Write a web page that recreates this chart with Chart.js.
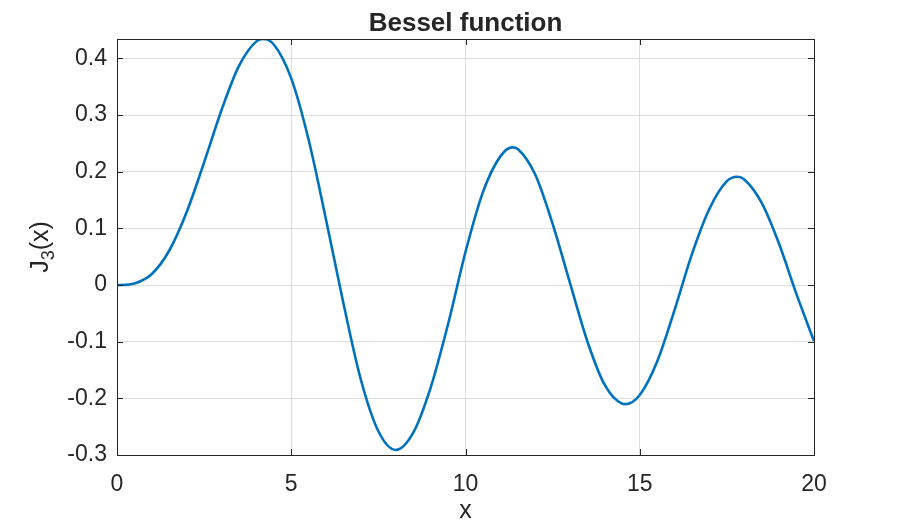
<!DOCTYPE html>
<html>
<head>
<meta charset="utf-8">
<script src="https://cdn.jsdelivr.net/npm/chart.js@4/dist/chart.umd.min.js"></script>
<style>
  html, body { margin: 0; padding: 0; background: #ffffff; }
  canvas { display: block; }
</style>
</head>
<body>
<canvas id="c" width="900" height="525"></canvas>
<script>
// Values (J3(x) curve)
const xValues = [0, 0.25, 0.5, 1, 1.5, 2, 2.5, 3, 3.5, 4, 4.2, 4.5, 5, 5.5, 6, 6.5, 7, 7.5, 8, 8.5, 9, 9.5, 10, 10.5, 11, 11.35, 11.5, 12, 12.5, 13, 13.5, 14, 14.5, 14.6, 15, 15.5, 16, 16.5, 17, 17.5, 17.8, 18, 18.5, 19, 19.5, 20];
const yValues = [0, 0.0003, 0.0026, 0.0196, 0.0610, 0.1289, 0.2166, 0.3091, 0.3868, 0.4302, 0.4344, 0.4247, 0.3648, 0.2561, 0.1148, -0.0330, -0.1676, -0.2581, -0.2911, -0.2606, -0.1809, -0.0690, 0.0584, 0.1640, 0.2272, 0.2430, 0.2403, 0.1951, 0.1080, 0.0033, -0.1000, -0.1768, -0.2094, -0.2101, -0.1940, -0.1350, -0.0438, 0.0550, 0.1347, 0.1835, 0.1912, 0.1863, 0.1450, 0.0724, -0.0165, -0.0989];
const xTicks = [0, 5, 10, 15, 20];
const yTicks = [-0.3, -0.2, -0.1, 0, 0.1, 0.2, 0.3, 0.4];
const xTickLabels = ['0', '5', '10', '15', '20'];
const yTickLabels = ['-0.3', '-0.2', '-0.1', '0', '0.1', '0.2', '0.3', '0.4'];
const titleText = 'Bessel function';
const xLabel = 'x';

const TXT = '#262626';
const FONT = '"Liberation Sans", Arial, Helvetica, sans-serif';

const points = xValues.map((x, i) => ({ x: x, y: yValues[i] }));

const decorPlugin = {
  id: 'decor',
  afterDraw(chart) {
    const ctx = chart.ctx;
    const a = chart.chartArea;
    const xs = chart.scales.x, ys = chart.scales.y;
    ctx.save();
    ctx.strokeStyle = TXT;
    ctx.lineWidth = 1;
    // box
    ctx.strokeRect(Math.round(a.left) + 0.5, Math.round(a.top) + 0.5,
                   Math.round(a.right - a.left), Math.round(a.bottom - a.top));
    // inward ticks
    const tl = 6;
    ctx.beginPath();
    xTicks.forEach(v => {
      const p = Math.round(xs.getPixelForValue(v)) + 0.5;
      ctx.moveTo(p, a.bottom); ctx.lineTo(p, a.bottom - tl);
      ctx.moveTo(p, a.top); ctx.lineTo(p, a.top + tl);
    });
    yTicks.forEach(v => {
      const p = Math.round(ys.getPixelForValue(v)) + 0.5;
      ctx.moveTo(a.left, p); ctx.lineTo(a.left + tl, p);
      ctx.moveTo(a.right, p); ctx.lineTo(a.right - tl, p);
    });
    ctx.stroke();

    ctx.fillStyle = TXT;
    const cx = (a.left + a.right) / 2;
    // title
    ctx.font = 'bold 26px ' + FONT;
    ctx.textAlign = 'center';
    ctx.textBaseline = 'alphabetic';
    ctx.fillText(titleText, cx, 31);
    // x label
    ctx.font = '25px ' + FONT;
    ctx.fillText(xLabel, cx, 518);
    // y label with subscript
    const cy = (a.top + a.bottom) / 2;
    ctx.translate(48, cy);
    ctx.rotate(-Math.PI / 2);
    const f1 = '25px ' + FONT, f2 = '18px ' + FONT;
    ctx.font = f1; const wJ = ctx.measureText('J').width; const wP = ctx.measureText('(x)').width;
    ctx.font = f2; const w3 = ctx.measureText('3').width;
    const total = wJ + w3 + wP;
    let sx = -total / 2;
    ctx.textAlign = 'left';
    ctx.font = f1; ctx.fillText('J', sx, 0); sx += wJ;
    ctx.font = f2; ctx.fillText('3', sx, 6); sx += w3;
    ctx.font = f1; ctx.fillText('(x)', sx, 0);
    ctx.restore();
  }
};

new Chart(document.getElementById('c'), {
  type: 'scatter',
  data: {
    datasets: [{
      data: points,
      showLine: true,
      borderColor: '#0072BD',
      borderWidth: 2.6,
      pointRadius: 0,
      fill: false,
      cubicInterpolationMode: 'monotone'
    }]
  },
  options: {
    responsive: false,
    animation: false,
    events: [],
    layout: { padding: { top: 39, right: 86, left: 0, bottom: 0 } },
    plugins: { legend: { display: false }, title: { display: false }, tooltip: { enabled: false } },
    scales: {
      x: {
        type: 'linear', min: 0, max: 20,
        afterFit: s => { s.height = 70; },
        afterBuildTicks: s => { s.ticks = xTicks.map(v => ({ value: v })); },
        grid: { color: '#dedede', lineWidth: 1, drawTicks: false },
        border: { display: false },
        ticks: {
          padding: 16, color: TXT,
          font: { family: FONT, size: 23 },
          maxRotation: 0,
          callback: (v) => xTickLabels[xTicks.indexOf(v)]
        }
      },
      y: {
        type: 'linear', min: -0.3, max: 0.4344,
        afterFit: s => { s.width = 117; },
        afterBuildTicks: s => { s.ticks = yTicks.map(v => ({ value: v })); },
        grid: { color: '#dedede', lineWidth: 1, drawTicks: false },
        border: { display: false },
        ticks: {
          padding: 10, color: TXT,
          font: { family: FONT, size: 23 },
          callback: (v) => {
            const i = yTicks.findIndex(t => Math.abs(t - v) < 1e-9);
            return i >= 0 ? yTickLabels[i] : '';
          }
        }
      }
    }
  },
  plugins: [decorPlugin]
});
</script>
</body>
</html>
